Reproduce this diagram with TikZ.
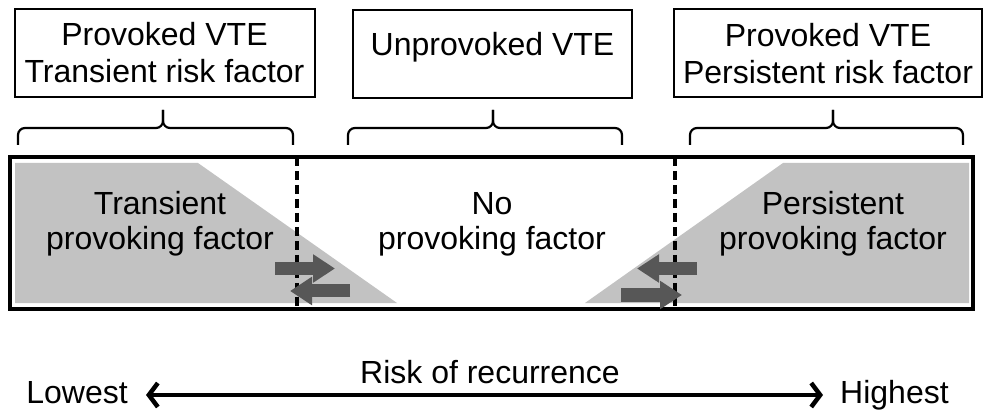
\documentclass[tikz,border=0pt]{standalone}
\usepackage{fontspec}
\setmainfont{Liberation Sans}
\usetikzlibrary{arrows.meta}
\definecolor{factorgrey}{HTML}{C2C2C2}
\definecolor{arrowgrey}{HTML}{575757}
\tikzset{
  vtebox/.style={draw, line width=2pt, minimum height=88pt, inner sep=1pt, align=center,
    font=\fontsize{32}{37}\selectfont},
  bartext/.style={align=center, font=\fontsize{32}{35}\selectfont},
  bracket/.style={line width=2.2pt, rounded corners=7pt},
  boundary/.style={line width=4pt, dash pattern=on 9pt off 5pt},
  swaparrow/.style={line width=13pt, draw=arrowgrey, -{Triangle[length=22pt,width=27pt]}},
  endtext/.style={inner sep=1pt, text height=23pt, text depth=7pt, font=\fontsize{32}{36}\selectfont}
}
\begin{document}
\begin{tikzpicture}[x=1pt,y=-1pt]
  \useasboundingbox (0,0) rectangle (984,411);
  % categories
  \node[vtebox, minimum width=300pt] (transbox) at (164.5,53) {Provoked VTE\\Transient risk factor};
  \node[vtebox, minimum width=279pt, text depth=20pt] (unprovbox) at (492.5,54) {Unprovoked VTE};
  \node[vtebox, minimum width=308pt] (persbox) at (828,53.5) {Provoked VTE\\Persistent risk factor};
  \coordinate (b1l) at (18,145);  \coordinate (b1t) at (163,110); \coordinate (b1r) at (293,145);
  \coordinate (b2l) at (348,145); \coordinate (b2t) at (493,110); \coordinate (b2r) at (622,145);
  \coordinate (b3l) at (690,145); \coordinate (b3t) at (833,110); \coordinate (b3r) at (963,145);
  \draw[bracket] (b1l) -- ++(0,-17) -| (b1t);
  \draw[bracket] (b1r) -- ++(0,-17) -| (b1t);
  \draw[bracket] (b2l) -- ++(0,-17) -| (b2t);
  \draw[bracket] (b2r) -- ++(0,-17) -| (b2t);
  \draw[bracket] (b3l) -- ++(0,-17) -| (b3t);
  \draw[bracket] (b3r) -- ++(0,-17) -| (b3t);
  % bar
  \fill[factorgrey] (15,163) -- (198,163) -- (397,303) -- (15,303) -- cycle;
  \fill[factorgrey] (969,163) -- (783,163) -- (585,303) -- (969,303) -- cycle;
  \draw[line width=3.5pt] (10,157) rectangle (973,309);
  \draw[boundary] (297,157) -- (297,309);
  \draw[boundary] (675,157) -- (675,309);
  \node[bartext] (transient) at (160,224) {Transient\\provoking factor};
  \node[bartext] (noprov) at (492,224) {No\\provoking factor};
  \node[bartext] (persist) at (833,224) {Persistent\\provoking factor};
  % shifts across the boundaries
  \coordinate (t1a) at (275,268.5); \coordinate (t1b) at (335,268.5);
  \coordinate (t2a) at (350,291);   \coordinate (t2b) at (290,291);
  \coordinate (p1a) at (697,268.5); \coordinate (p1b) at (637,268.5);
  \coordinate (p2a) at (621,295);   \coordinate (p2b) at (682,295);
  \begin{scope}
    \draw[swaparrow] (t1a) to (t1b);
    \draw[swaparrow] (t2a) to (t2b);
    \draw[swaparrow] (p1a) to (p1b);
    \draw[swaparrow] (p2a) to (p2b);
  \end{scope}
  % risk scale
  \node[endtext, anchor=east] (lowest) at (129,395) {Lowest};
  \node[endtext, anchor=west] (highest) at (839,395) {Highest};
  \node[anchor=base, font=\fontsize{32}{36}\selectfont] (risk) at (490,383) {Risk of recurrence};
  \draw[line width=4.5pt, {Straight Barb[length=9pt,width=24pt]}-{Straight Barb[length=9pt,width=24pt]}]
    ([xshift=17pt]lowest.east) -- ([xshift=-16pt]highest.west);
\end{tikzpicture}
\end{document}
